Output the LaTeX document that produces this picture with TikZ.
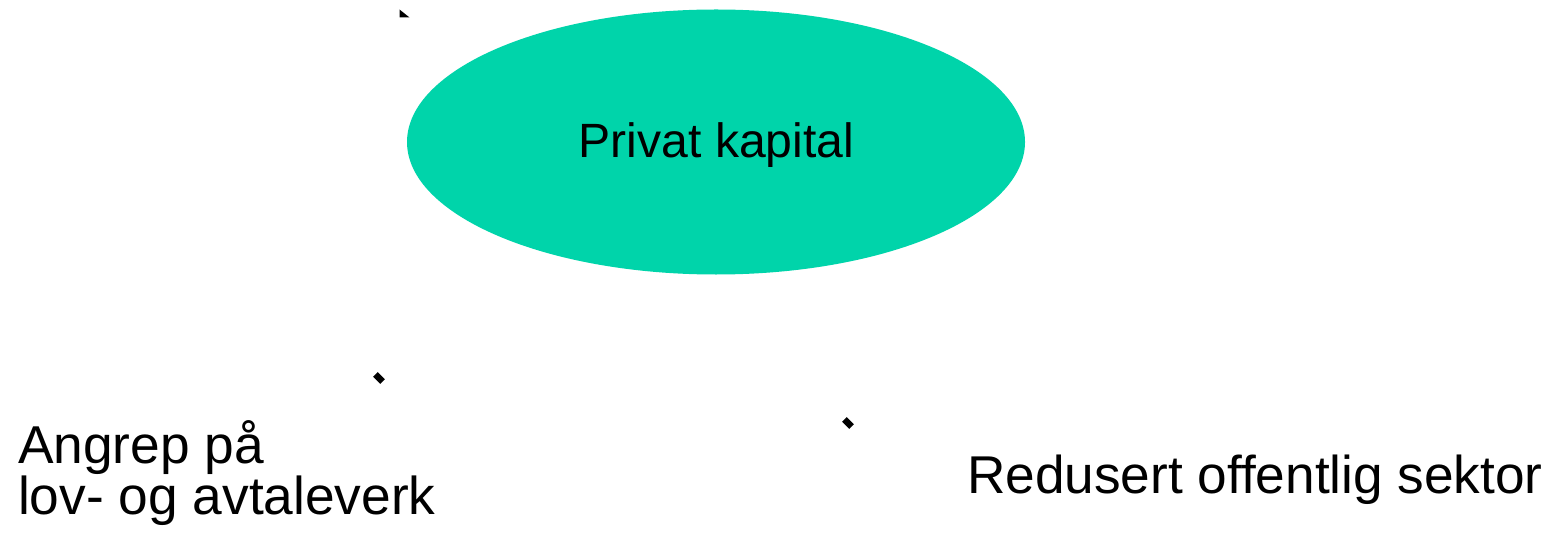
\documentclass[tikz,border=0pt]{standalone}
\usepackage{fontspec}
\setmainfont{Liberation Sans}
\usetikzlibrary{shapes.geometric}
\definecolor{kapgreen}{RGB}{0,212,170}
\begin{document}
\begin{tikzpicture}[x=1bp,y=-1bp,
  lbl/.style={inner sep=0pt, outer sep=0pt, text=black},
  tip/.style={fill=black, draw=none, inner sep=0pt, minimum width=10bp, minimum height=6.5bp, rotate=-45}]
\useasboundingbox (0,0) rectangle (1567,533);
\node[ellipse, fill=kapgreen, draw=none, minimum width=618bp, minimum height=265bp, inner sep=0pt] (kap) at (716,142) {};
\node[lbl, anchor=base, font=\fontsize{48.3}{56}\selectfont] (kaptext) at (716.5,158) {Privat kapital};
\node[lbl, anchor=north west, align=left, font=\fontsize{53.5}{47.5}\selectfont] (angrep) at (18,420.5) {Angrep på\\lov- og avtaleverk};
\node[lbl, anchor=base west, font=\fontsize{53.4}{56}\selectfont] (redusert) at (967,493) {Redusert offentlig sektor};
\node[tip] (m2) at (379,378) {};
\node[tip] (m3) at (848,423) {};
\fill[black] (399.5,9.5) coordinate (m1a) -- (399.5,17.5) -- (409.5,17.5) -- cycle;
\end{tikzpicture}
\end{document}
